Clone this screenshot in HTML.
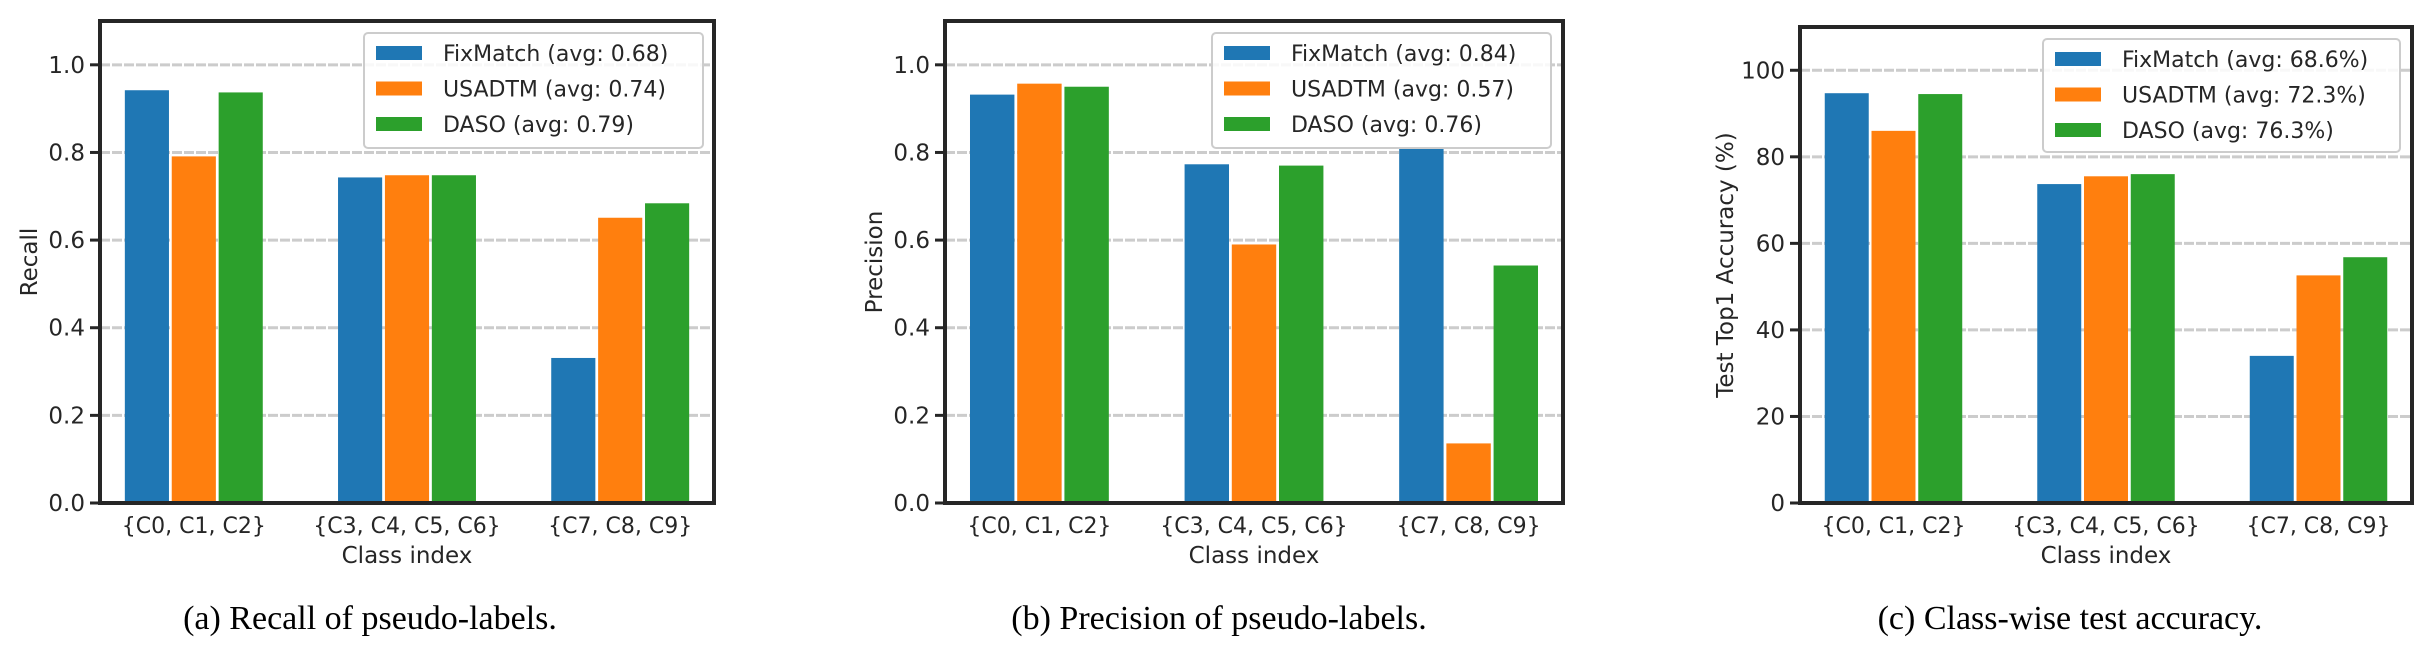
<!DOCTYPE html>
<html><head><meta charset="utf-8"><style>
html,body{margin:0;padding:0;background:#fff;}
svg{display:block;}
</style></head><body>
<svg id="fig" xmlns="http://www.w3.org/2000/svg" width="2424" height="645" viewBox="0 0 2424 645"></svg>
<script>
const categories = ["{C0, C1, C2}", "{C3, C4, C5, C6}", "{C7, C8, C9}"];
const seriesNames = ["FixMatch", "USADTM", "DASO"];
const recallFixMatch = [0.942, 0.743, 0.331];
const recallUSADTM = [0.791, 0.748, 0.651];
const recallDASO = [0.937, 0.748, 0.684];
const precisionFixMatch = [0.932, 0.773, 0.81];
const precisionUSADTM = [0.957, 0.59, 0.136];
const precisionDASO = [0.95, 0.77, 0.542];
const accFixMatch = [94.7, 73.7, 34.0];
const accUSADTM = [86.0, 75.5, 52.6];
const accDASO = [94.5, 76.0, 56.8];
const recallLegend = ["FixMatch (avg: 0.68)", "USADTM (avg: 0.74)", "DASO (avg: 0.79)"];
const precisionLegend = ["FixMatch (avg: 0.84)", "USADTM (avg: 0.57)", "DASO (avg: 0.76)"];
const accLegend = ["FixMatch (avg: 68.6%)", "USADTM (avg: 72.3%)", "DASO (avg: 76.3%)"];
const recallTicks = [0, 0.2, 0.4, 0.6, 0.8, 1.0];
const recallTickLabels = ["0.0", "0.2", "0.4", "0.6", "0.8", "1.0"];
const accTicks = [0, 20, 40, 60, 80, 100];
const accTickLabels = ["0", "20", "40", "60", "80", "100"];

const NS = "http://www.w3.org/2000/svg";
const svg = document.getElementById("fig");
const colors = ["#1f77b4", "#ff7f0e", "#2ca02c"];
const FONT = '"DejaVu Sans","Liberation Sans",sans-serif';

function mk(tag, attrs, parent) {
  const e = document.createElementNS(NS, tag);
  for (const k in attrs) e.setAttribute(k, attrs[k]);
  (parent || svg).appendChild(e);
  return e;
}

const charts = [
  {id: "recall", L: 100, R: 714, T: 21, B: 503, ymax: 1.1, series: [recallFixMatch, recallUSADTM, recallDASO],
   legend: recallLegend, ticks: recallTicks, tickLabels: recallTickLabels, ylabel: "Recall", ylabelX: 30,
   legL: 364, legT: 33, legR: 703, legB: 148, caption: "(a) Recall of pseudo-labels.", capX: 370},
  {id: "precision", L: 945, R: 1563, T: 21, B: 503, ymax: 1.1, series: [precisionFixMatch, precisionUSADTM, precisionDASO],
   legend: precisionLegend, ticks: recallTicks, tickLabels: recallTickLabels, ylabel: "Precision", ylabelX: 875,
   legL: 1212, legT: 33, legR: 1551, legB: 148, caption: "(b) Precision of pseudo-labels.", capX: 1219},
  {id: "accuracy", L: 1800, R: 2412, T: 27, B: 503, ymax: 110, series: [accFixMatch, accUSADTM, accDASO],
   legend: accLegend, ticks: accTicks, tickLabels: accTickLabels, ylabel: "Test Top1 Accuracy (%)", ylabelX: 1726,
   legL: 2043, legT: 39, legR: 2400, legB: 152, caption: "(c) Class-wise test accuracy.", capX: 2070}
];

charts.forEach(c => {
  const g = mk("g", {});
  
  
  const xmin = -0.44, xmax = 2.44;
  const xs = v => c.L + (v - xmin) / (xmax - xmin) * (c.R - c.L);
  const ys = v => c.B - v / c.ymax * (c.B - c.T);

  // gridlines
  c.ticks.forEach((t, i) => {
    if (t === 0) return;
    const gl = mk("line", {x1: c.L, x2: c.R, y1: ys(t), y2: ys(t), stroke: "#cccccc", "stroke-width": 3, "stroke-dasharray": "10 2"}, g);
    
    
  });
  // bars
  const step = 0.22, bw = 0.207;
  c.series.forEach((arr, s) => {
    arr.forEach((v, i) => {
      const cx = i + (s - 1) * step;
      const x0 = xs(cx - bw / 2), x1 = xs(cx + bw / 2);
      const r = mk("rect", {x: x0, y: ys(v), width: x1 - x0, height: c.B - ys(v), fill: colors[s]}, g);
      
      
    });
  });
  // spines
  const sp = mk("rect", {x: c.L, y: c.T, width: c.R - c.L, height: c.B - c.T, fill: "none", stroke: "#262626", "stroke-width": 4}, g);
  
  
  // y ticks
  c.ticks.forEach((t, i) => {
    mk("line", {x1: c.L - 10, x2: c.L, y1: ys(t), y2: ys(t), stroke: "#262626", "stroke-width": 3}, g);
    const tl = mk("text", {x: c.L - 15, y: ys(t) + 8, "text-anchor": "end", "font-family": FONT, "font-size": 23, fill: "#262626"}, g);
    tl.textContent = c.tickLabels[i];
    
    
  });
  // x tick labels
  categories.forEach((cat, i) => {
    const xl = mk("text", {x: xs(i), y: 533, "text-anchor": "middle", "font-family": FONT, "font-size": 22, fill: "#262626"}, g);
    xl.textContent = cat;
    
    
  });
  const xt = mk("text", {x: (c.L + c.R) / 2, y: 563, "text-anchor": "middle", "font-family": FONT, "font-size": 23, fill: "#262626"}, g);
  xt.textContent = "Class index";
  
  
  const yc = (c.T + c.B) / 2;
  const yt = mk("text", {x: c.ylabelX, y: yc, "text-anchor": "middle", "font-family": FONT, "font-size": 23, fill: "#262626",
    transform: "rotate(-90 " + c.ylabelX + " " + yc + ")", "dominant-baseline": "central"}, g);
  yt.textContent = c.ylabel;
  
  
  // legend
  const lg = mk("g", {}, g);
  
  
  mk("rect", {x: c.legL, y: c.legT, width: c.legR - c.legL, height: c.legB - c.legT, rx: 4, fill: "#ffffff", "fill-opacity": 0.85, stroke: "#cccccc", "stroke-width": 2}, lg);
  const rowH = (c.legB - c.legT) / 3.2;
  c.legend.forEach((txt, s) => {
    const cy = c.legT + 20 + s * 35.5;
    const p = mk("rect", {x: c.legL + 12, y: cy - 7, width: 46, height: 14, fill: colors[s]}, lg);
    
    
    const t = mk("text", {x: c.legL + 79, y: cy + 8, "font-family": FONT, "font-size": 22, fill: "#262626"}, lg);
    t.textContent = txt;
    
    
  });
  // caption
  const cap = mk("text", {x: c.capX, y: 629, "text-anchor": "middle", "font-family": '"Liberation Serif",serif', "font-size": 34, fill: "#000"}, g);
  cap.textContent = c.caption;
  
  
});
</script>
</body></html>
